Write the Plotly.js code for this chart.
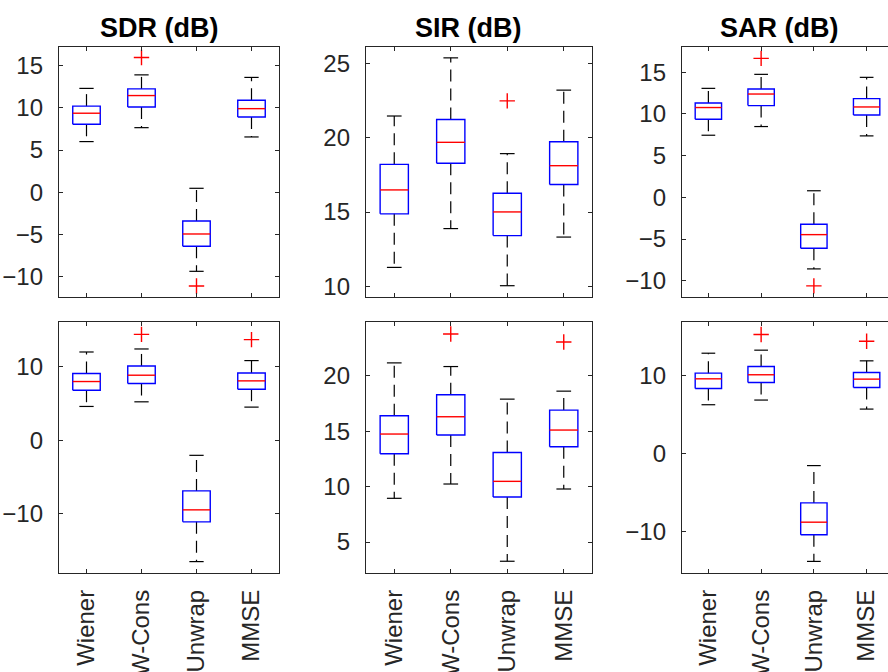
<!DOCTYPE html>
<html>
<head>
<meta charset="utf-8">
<script src="https://cdn.plot.ly/plotly-3.0.1.min.js"></script>
<style>
html,body{margin:0;padding:0;overflow:hidden;background:#fff;}
#chart{width:900px;height:672px;}
</style>
</head>
<body>
<div id="chart"></div>
<script>
// ---- categories / labels ----
const categories = ['Wiener', 'W-Cons', 'Unwrap', 'MMSE'];
const titles = ['SDR (dB)', 'SIR (dB)', 'SAR (dB)'];

// ---- top row: SDR ----
const sdrTopLower  = [6.0, 7.65, -9.36, 6.55];
const sdrTopQ1     = [8.05, 10.1, -6.4, 8.92];
const sdrTopMedian = [9.36, 11.45, -4.94, 9.9];
const sdrTopQ3     = [10.2, 12.24, -3.4, 10.9];
const sdrTopUpper  = [12.3, 13.9, 0.47, 13.6];
const sdrTopOutCat = ['W-Cons', 'Unwrap'];
const sdrTopOutVal = [15.95, -11.1];

// ---- top row: SIR ----
const sirTopLower  = [11.28, 13.89, 10.05, 13.32];
const sirTopQ1     = [14.88, 18.28, 13.42, 16.85];
const sirTopMedian = [16.49, 19.69, 15.01, 18.12];
const sirTopQ3     = [18.21, 21.23, 16.27, 19.73];
const sirTopUpper  = [21.46, 25.37, 18.93, 23.2];
const sirTopOutCat = ['Unwrap'];
const sirTopOutVal = [22.48];

// ---- top row: SAR ----
const sarTopLower  = [7.45, 8.49, -8.58, 7.37];
const sarTopQ1     = [9.37, 11.0, -6.1, 9.88];
const sarTopMedian = [10.77, 12.39, -4.47, 10.84];
const sarTopQ3     = [11.32, 12.99, -3.23, 11.84];
const sarTopUpper  = [13.07, 14.75, 0.79, 14.39];
const sarTopOutCat = ['W-Cons', 'Unwrap'];
const sarTopOutVal = [16.66, -10.61];

// ---- bottom row: SDR ----
const sdrBotLower  = [4.61, 5.24, -16.5, 4.52];
const sdrBotQ1     = [6.82, 7.73, -11.09, 6.96];
const sdrBotMedian = [8.0, 8.86, -9.46, 8.09];
const sdrBotQ3     = [9.09, 10.12, -6.88, 9.17];
const sdrBotUpper  = [12.02, 12.43, -2.04, 10.85];
const sdrBotOutCat = ['W-Cons', 'MMSE'];
const sdrBotOutVal = [14.42, 13.7];

// ---- bottom row: SIR ----
const sirBotLower  = [8.95, 10.24, 3.27, 9.79];
const sirBotQ1     = [12.97, 14.66, 9.07, 13.6];
const sirBotMedian = [14.75, 16.31, 10.48, 15.11];
const sirBotQ3     = [16.4, 18.29, 13.09, 16.91];
const sirBotUpper  = [21.17, 20.84, 17.9, 18.62];
const sirBotOutCat = ['W-Cons', 'MMSE'];
const sirBotOutVal = [23.78, 23.06];

// ---- bottom row: SAR ----
const sarBotLower  = [6.24, 6.84, -13.89, 5.68];
const sarBotQ1     = [8.33, 9.1, -10.47, 8.46];
const sarBotMedian = [9.57, 10.09, -8.85, 9.53];
const sarBotQ3     = [10.3, 11.15, -6.37, 10.38];
const sarBotUpper  = [12.86, 13.25, -1.58, 11.88];
const sarBotOutCat = ['W-Cons', 'MMSE'];
const sarBotOutVal = [15.26, 14.4];

// ---- panel assembly ----
const panels = [
  {lo: sdrTopLower, q1: sdrTopQ1, md: sdrTopMedian, q3: sdrTopQ3, up: sdrTopUpper, oc: sdrTopOutCat, ov: sdrTopOutVal},
  {lo: sirTopLower, q1: sirTopQ1, md: sirTopMedian, q3: sirTopQ3, up: sirTopUpper, oc: sirTopOutCat, ov: sirTopOutVal},
  {lo: sarTopLower, q1: sarTopQ1, md: sarTopMedian, q3: sarTopQ3, up: sarTopUpper, oc: sarTopOutCat, ov: sarTopOutVal},
  {lo: sdrBotLower, q1: sdrBotQ1, md: sdrBotMedian, q3: sdrBotQ3, up: sdrBotUpper, oc: sdrBotOutCat, ov: sdrBotOutVal},
  {lo: sirBotLower, q1: sirBotQ1, md: sirBotMedian, q3: sirBotQ3, up: sirBotUpper, oc: sirBotOutCat, ov: sirBotOutVal},
  {lo: sarBotLower, q1: sarBotQ1, md: sarBotMedian, q3: sarBotQ3, up: sarBotUpper, oc: sarBotOutCat, ov: sarBotOutVal}
];

const W = 900, H = 672;
const colPx = [[59, 279], [366, 592], [682, 893]];
const rowPx = [[47, 297], [322, 573]];
const yRanges = [[-12.4, 17.2], [9.29, 26.1], [-11.95, 18.03], [-18.05, 16.1], [2.21, 24.86], [-15.38, 16.87]];
const yDticks = [5, 5, 5, 10, 5, 10];

const BOXH = 0.25, CAPH = 0.13;
const traces = [];
const FONT = 'Liberation Sans, Arial, Helvetica, sans-serif';
const layout = {
  width: W, height: H,
  margin: {l: 0, r: 0, t: 0, b: 0},
  paper_bgcolor: '#ffffff', plot_bgcolor: '#ffffff',
  showlegend: false,
  font: {family: FONT, size: 24, color: '#262626'},
  annotations: []
};
const axisColor = '#262626';

panels.forEach((p, k) => {
  const r = Math.floor(k / 3), c = k % 3;
  const n = k + 1;
  const xa = 'x' + (n === 1 ? '' : n), ya = 'y' + (n === 1 ? '' : n);
  const xKey = 'xaxis' + (n === 1 ? '' : n), yKey = 'yaxis' + (n === 1 ? '' : n);
  const pos = categories.map((_, i) => i + 1);

  const wx = [], wy = [], cx = [], cy = [], bx = [], by = [], mx = [], my = [];
  pos.forEach((x, i) => {
    wx.push(x, x, null, x, x, null);
    wy.push(p.q3[i], p.up[i], null, p.q1[i], p.lo[i], null);
    cx.push(x - CAPH, x + CAPH, null, x - CAPH, x + CAPH, null);
    cy.push(p.up[i], p.up[i], null, p.lo[i], p.lo[i], null);
    bx.push(x - BOXH, x + BOXH, x + BOXH, x - BOXH, x - BOXH, null);
    by.push(p.q1[i], p.q1[i], p.q3[i], p.q3[i], p.q1[i], null);
    mx.push(x - BOXH, x + BOXH, null);
    my.push(p.md[i], p.md[i], null);
  });
  const common = {xaxis: xa, yaxis: ya, hoverinfo: 'skip', cliponaxis: false};
  traces.push(Object.assign({type: 'scatter', mode: 'lines', x: wx, y: wy, line: {color: '#000000', width: 1.2, dash: '12px,7px'}}, common));
  traces.push(Object.assign({type: 'scatter', mode: 'lines', x: cx, y: cy, line: {color: '#000000', width: 1.2}}, common));
  traces.push(Object.assign({type: 'scatter', mode: 'lines', x: bx, y: by, line: {color: '#0000ff', width: 1.4}}, common));
  traces.push(Object.assign({type: 'scatter', mode: 'lines', x: mx, y: my, line: {color: '#ff0000', width: 1.4}}, common));
  traces.push(Object.assign({type: 'scatter', mode: 'markers',
    x: p.oc.map(cn => categories.indexOf(cn) + 1), y: p.ov,
    marker: {symbol: 'cross-thin', size: 11, color: '#ff0000', line: {color: '#ff0000', width: 1.4}}}, common));

  layout[xKey] = {
    domain: [colPx[c][0] / W, colPx[c][1] / W],
    anchor: ya, range: [0.5, 4.5],
    tickmode: 'array', tickvals: pos, ticktext: categories,
    showticklabels: r === 1, tickangle: -90,
    ticks: 'inside', ticklen: 4, tickcolor: axisColor, tickwidth: 1,
    showline: true, linecolor: axisColor, linewidth: 1.2, mirror: 'ticks',
    showgrid: false, zeroline: false, fixedrange: true,
    ticklabelstandoff: 6,
    tickfont: {size: 24, color: axisColor}
  };
  layout[yKey] = {
    domain: [1 - rowPx[r][1] / H, 1 - rowPx[r][0] / H],
    anchor: xa, range: yRanges[k],
    tickmode: 'linear', tick0: 0, dtick: yDticks[k],
    ticks: 'inside', ticklen: 4, tickcolor: axisColor, tickwidth: 1,
    showline: true, linecolor: axisColor, linewidth: 1.2, mirror: 'ticks',
    showgrid: false, zeroline: false, fixedrange: true,
    ticklabelstandoff: 10,
    tickfont: {size: 24, color: axisColor}
  };
});

const titleCenters = [159, 468, 779];
titles.forEach((t, c) => {
  layout.annotations.push({
    text: '<b>' + t + '</b>', xref: 'paper', yref: 'paper',
    x: titleCenters[c] / W, y: 1 - 28 / H, xanchor: 'center', yanchor: 'middle',
    showarrow: false, font: {size: 27, color: '#000000', family: FONT}
  });
});

Plotly.newPlot('chart', traces, layout, {displayModeBar: false, staticPlot: true});
</script>
</body>
</html>
